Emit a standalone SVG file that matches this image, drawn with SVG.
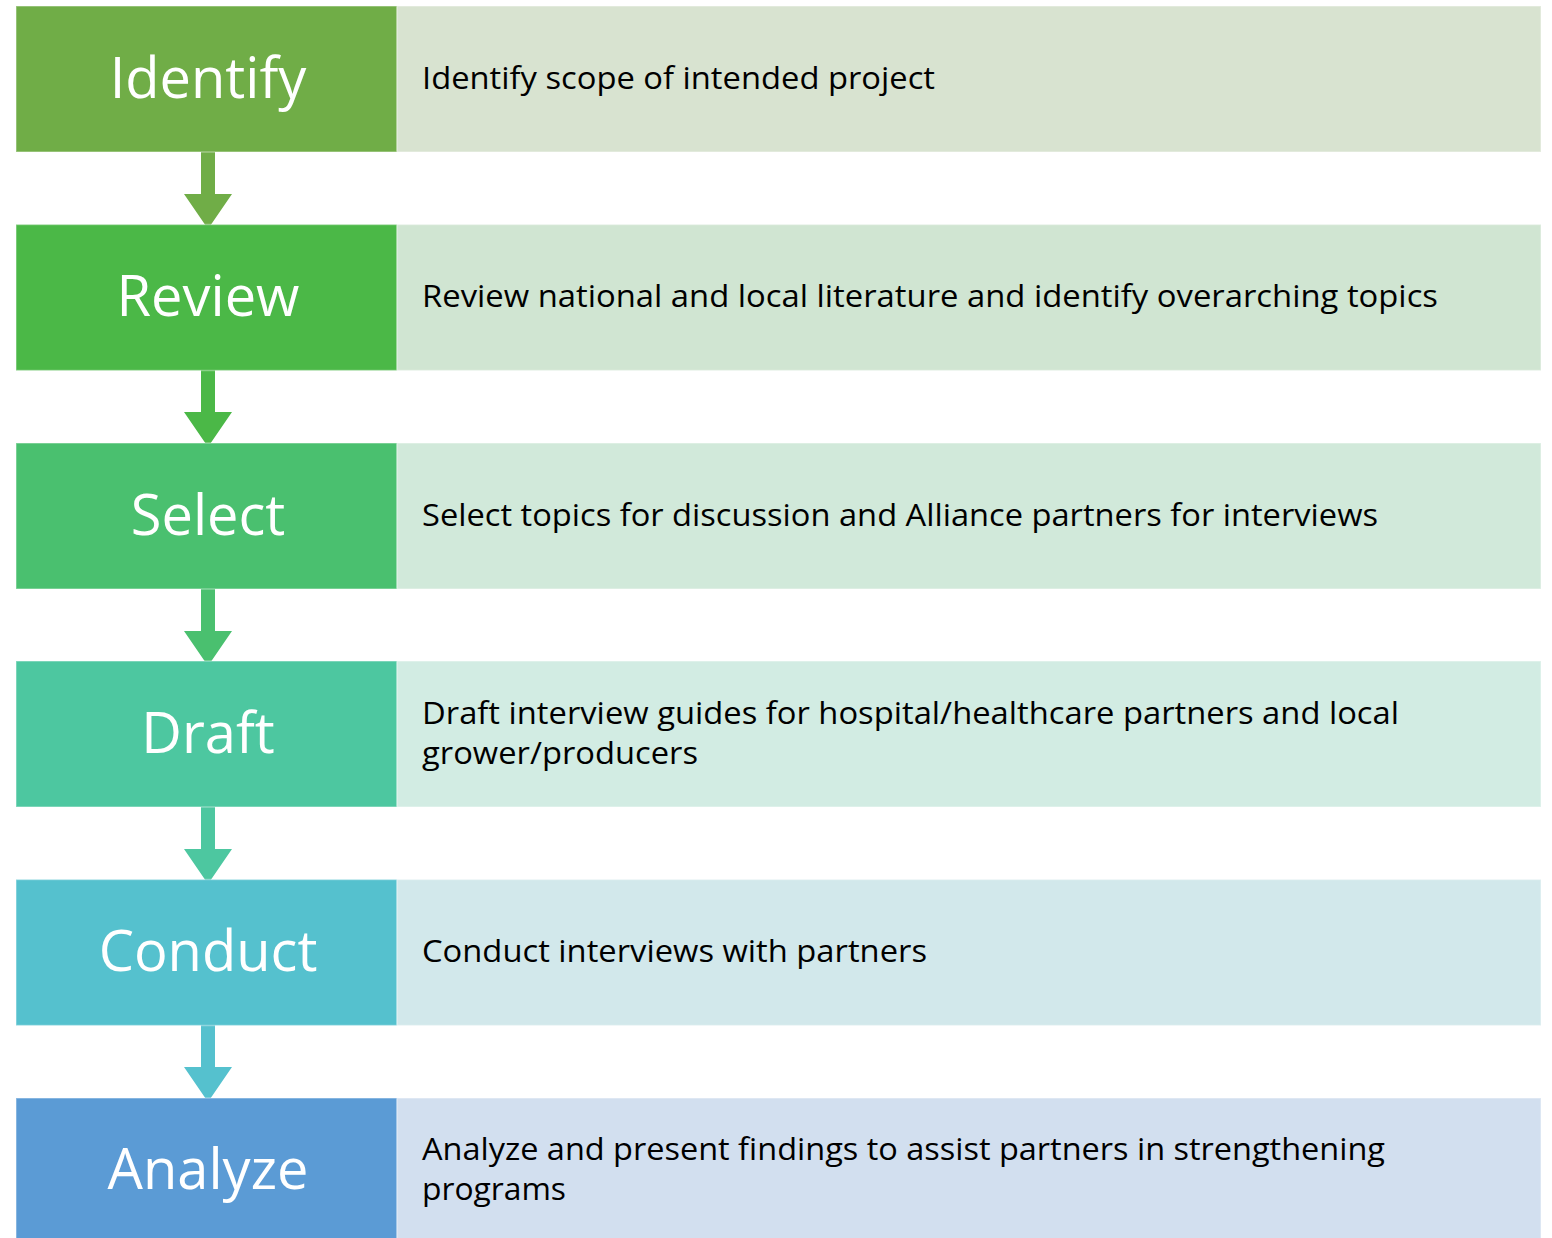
<svg xmlns="http://www.w3.org/2000/svg" width="1552" height="1238" viewBox="0 0 1552 1238">
<style>
.lbl{font-family:"Open Sans","Noto Sans",sans-serif;font-size:56px;fill:#fff;text-anchor:middle}
.desc{font-family:"Open Sans","Noto Sans",sans-serif;font-size:31px;fill:#000}
.bx{stroke:#fff;stroke-opacity:0.35;stroke-width:1.5}
</style>
<rect width="1552" height="1238" fill="#fff"/>
<g id="connectors">
<path d="M201,152H215V194H232L208,229L184,194H201Z" fill="#70AD47"/>
<path d="M201,370H215V412H232L208,447L184,412H201Z" fill="#4BB847"/>
<path d="M201,589H215V631H232L208,666L184,631H201Z" fill="#4AC06F"/>
<path d="M201,807H215V849H232L208,884L184,849H201Z" fill="#4DC7A0"/>
<path d="M201,1025H215V1067H232L208,1102L184,1067H201Z" fill="#55C1CE"/>
</g>
<g id="identify">
<rect class="bx" x="16" y="6" width="381" height="146" fill="#70AD47"/>
<rect class="bx" x="397" y="6" width="1144" height="146" fill="#D8E3D0"/>
<text class="lbl" x="208" y="98">Identify</text>
<text class="desc" x="422" y="89" textLength="513" lengthAdjust="spacingAndGlyphs">Identify scope of intended project</text>
</g>
<g id="review">
<rect class="bx" x="16" y="224.5" width="381" height="146" fill="#4BB847"/>
<rect class="bx" x="397" y="224.5" width="1144" height="146" fill="#D0E5D2"/>
<text class="lbl" x="208" y="316">Review</text>
<text class="desc" x="422" y="307" textLength="1016" lengthAdjust="spacingAndGlyphs">Review national and local literature and identify overarching topics</text>
</g>
<g id="select">
<rect class="bx" x="16" y="443" width="381" height="146" fill="#4AC06F"/>
<rect class="bx" x="397" y="443" width="1144" height="146" fill="#D1E9DA"/>
<text class="lbl" x="208" y="535">Select</text>
<text class="desc" x="422" y="526" textLength="956" lengthAdjust="spacingAndGlyphs">Select topics for discussion and Alliance partners for interviews</text>
</g>
<g id="draft">
<rect class="bx" x="16" y="661" width="381" height="146" fill="#4DC7A0"/>
<rect class="bx" x="397" y="661" width="1144" height="146" fill="#D2ECE3"/>
<text class="lbl" x="208" y="753">Draft</text>
<text class="desc" x="422" y="724" textLength="977" lengthAdjust="spacingAndGlyphs">Draft interview guides for hospital/healthcare partners and local</text>
<text class="desc" x="422" y="764" textLength="276" lengthAdjust="spacingAndGlyphs">grower/producers</text>
</g>
<g id="conduct">
<rect class="bx" x="16" y="879.5" width="381" height="146" fill="#55C1CE"/>
<rect class="bx" x="397" y="879.5" width="1144" height="146" fill="#D2E8EB"/>
<text class="lbl" x="208" y="971">Conduct</text>
<text class="desc" x="422" y="962" textLength="505" lengthAdjust="spacingAndGlyphs">Conduct interviews with partners</text>
</g>
<g id="analyze">
<rect class="bx" x="16" y="1098" width="381" height="146" fill="#5B9BD5"/>
<rect class="bx" x="397" y="1098" width="1144" height="146" fill="#D2DFEF"/>
<text class="lbl" x="208" y="1189">Analyze</text>
<text class="desc" x="422" y="1160" textLength="963" lengthAdjust="spacingAndGlyphs">Analyze and present findings to assist partners in strengthening</text>
<text class="desc" x="422" y="1200" textLength="144" lengthAdjust="spacingAndGlyphs">programs</text>
</g>
</svg>
